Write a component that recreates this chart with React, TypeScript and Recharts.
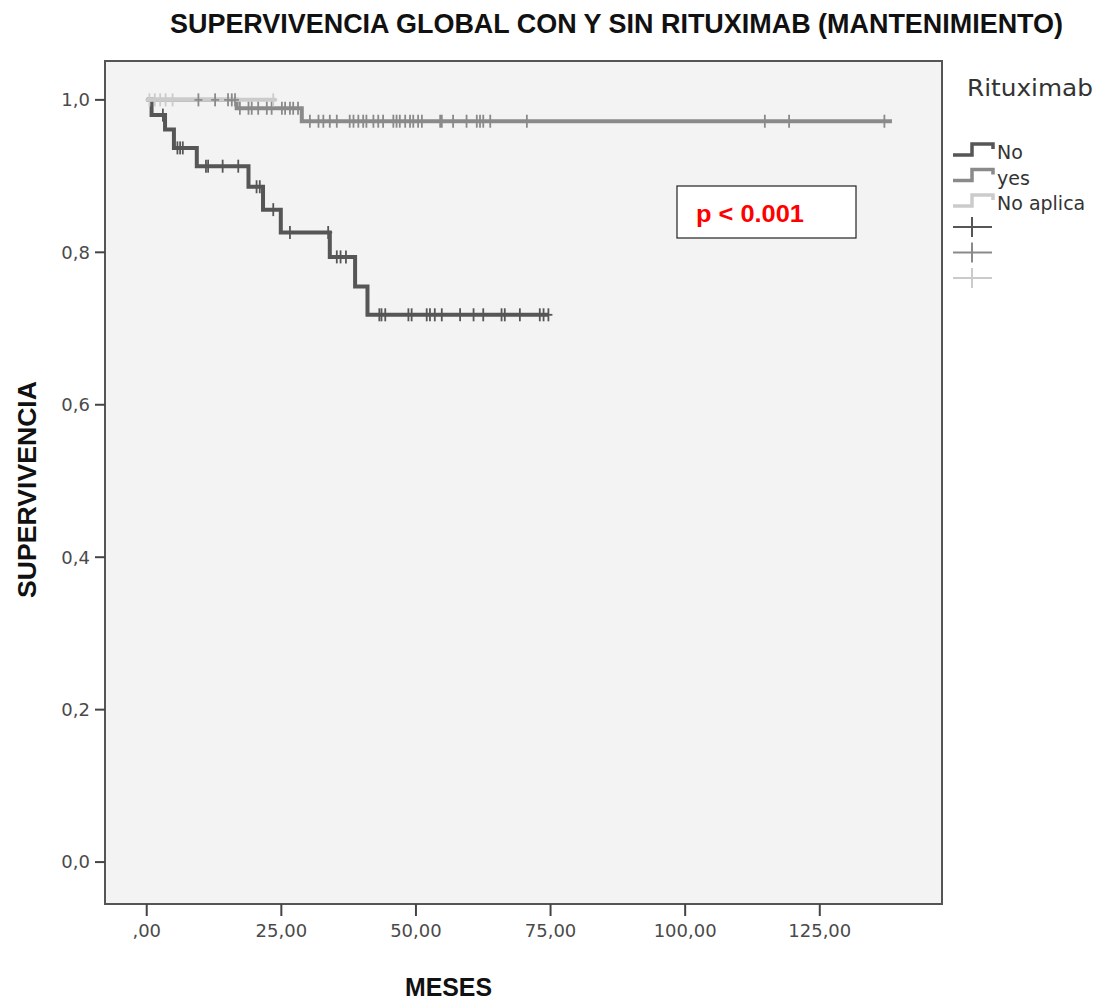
import React from "react";
import {
  ComposedChart,
  Line,
  Scatter,
  XAxis,
  YAxis,
} from "recharts";

// Kaplan-Meier step points (time in months, survival after that time)
const noTimes = [0, 0.9, 3.4, 5.05, 9.3, 18.9, 21.6, 24.9, 34.0, 38.7, 41.0, 74.6];
const noSurv = [1.0, 0.98, 0.961, 0.937, 0.913, 0.886, 0.856, 0.826, 0.794, 0.755, 0.718, 0.718];
const noCensored = [
  3.0, 5.7, 6.2, 6.7, 11.0, 11.4, 14.1, 17.0, 20.4, 21.0, 23.5, 26.6, 33.7, 35.3, 36.0, 37.0,
  43.2, 43.6, 44.3, 48.6, 49.2, 52.0, 52.6, 53.5, 54.8, 58.2, 60.7, 62.5, 65.9, 66.5, 69.3,
  73.0, 73.7, 74.6,
];

const yesTimes = [0, 16.7, 28.8, 138.4];
const yesSurv = [1.0, 0.989, 0.972, 0.972];
const yesCensored = [
  9.6, 12.7, 15.1, 15.8, 16.4, 17.3, 18.9, 19.5, 20.7, 22.3, 23.2, 25.1, 25.7, 26.6, 27.2, 28.1,
  30.3, 31.9, 32.8, 34.0, 35.3, 37.7, 38.4, 39.3, 40.2, 40.8, 42.1, 43.0, 43.9, 45.8, 46.4,
  47.0, 48.0, 48.9, 49.5, 50.4, 51.1, 54.5, 54.8, 56.9, 59.4, 61.3, 61.9, 62.5, 63.8, 70.6,
  114.8, 119.3, 137.0,
];

const naTimes = [0, 24.1];
const naSurv = [1.0, 1.0];
const naCensored = [0.5, 1.5, 2.5, 3.5, 4.8, 23.5];

const xTicks = [0, 25, 50, 75, 100, 125];
const yTicks = [0, 0.2, 0.4, 0.6, 0.8, 1.0];

const groups = ["No", "yes", "No aplica"];
const colors = ["#565656", "#8a8a8a", "#cbcbcb"];

const toSteps = (times: number[], surv: number[]) =>
  times.map((t, i) => ({ t, s: surv[i] }));

// y of a censored case = KM value at that time
const survAt = (times: number[], surv: number[], t: number) => {
  let v = surv[0];
  times.forEach((tt, i) => {
    if (tt <= t) v = surv[i];
  });
  return v;
};

const toCensor = (times: number[], surv: number[], cens: number[]) =>
  cens.map((t) => ({ t, s: survAt(times, surv, t) }));

const series = [
  { steps: toSteps(noTimes, noSurv), cens: toCensor(noTimes, noSurv, noCensored) },
  { steps: toSteps(yesTimes, yesSurv), cens: toCensor(yesTimes, yesSurv, yesCensored) },
  { steps: toSteps(naTimes, naSurv), cens: toCensor(naTimes, naSurv, naCensored) },
];

const plus = (color: string) => (props: any) => {
  const { cx, cy } = props;
  return (
    <g stroke={color} strokeWidth={1.8}>
      <line x1={cx} x2={cx} y1={cy - 6.5} y2={cy + 6.5} />
      <line x1={cx - 4} x2={cx + 4} y1={cy} y2={cy} />
    </g>
  );
};

const fmtX = (v: number) => (v === 0 ? ",00" : v.toFixed(2).replace(".", ","));
const fmtY = (v: number) => v.toFixed(1).replace(".", ",");

const W = 1110;
const H = 1003;
const PL = 105;
const PT = 61;
const PR = 942;
const PB = 904;

const boldFont = "'Liberation Sans Narrow', 'Liberation Sans', Arial, sans-serif";
const tickFont = "'DejaVu Sans', Verdana, sans-serif";

export default function App() {
  return (
    <div style={{ position: "absolute", left: 0, top: 0, width: W, height: H, background: "#fff" }}>
      <div
        style={{
          position: "absolute",
          left: PL - 1,
          top: PT - 1,
          width: PR - PL + 2,
          height: PB - PT + 2,
          background: "#f3f3f3",
          border: "2.5px solid #555",
          boxSizing: "border-box",
        }}
      />
      <div style={{ position: "absolute", left: 0, top: 0 }}>
        <ComposedChart
          width={W}
          height={H}
          margin={{ top: PT, right: W - PR, bottom: 39, left: PL - 60 }}
        >
          <XAxis
            type="number"
            dataKey="t"
            domain={[-7.75, 147.7]}
            ticks={xTicks}
            tickFormatter={fmtX}
            allowDataOverflow
            height={60}
            axisLine={false}
            tickLine={{ stroke: "#444", strokeWidth: 2 }}
            tickSize={12}
            tickMargin={8}
            tick={{ fill: "#4a4a4a", fontSize: 18, fontFamily: tickFont }}
          />
          <YAxis
            type="number"
            dataKey="s"
            domain={[-0.055, 1.051]}
            ticks={yTicks}
            tickFormatter={fmtY}
            allowDataOverflow
            width={60}
            axisLine={false}
            tickLine={{ stroke: "#444", strokeWidth: 2 }}
            tickSize={10}
            tickMargin={5}
            tick={{ fill: "#4a4a4a", fontSize: 18, fontFamily: tickFont }}
          />
          {series.map((g, i) => (
            <Line
              key={"l" + i}
              data={g.steps}
              dataKey="s"
              type="stepAfter"
              stroke={colors[i]}
              strokeWidth={4}
              dot={false}
              activeDot={false}
              isAnimationActive={false}
            />
          ))}
          {series.map((g, i) => (
            <Scatter
              key={"c" + i}
              data={g.cens}
              dataKey="s"
              shape={plus(colors[i])}
              isAnimationActive={false}
            />
          ))}
        </ComposedChart>
      </div>
      <svg
        width={W}
        height={H}
        style={{ position: "absolute", left: 0, top: 0, pointerEvents: "none" }}
      >
        <text
          x={170}
          y={33}
          fontFamily={boldFont}
          fontWeight="bold"
          fontSize={27}
          fill="#111"
          textLength={893}
          lengthAdjust="spacingAndGlyphs"
        >
          SUPERVIVENCIA GLOBAL CON Y SIN RITUXIMAB (MANTENIMIENTO)
        </text>
        <text
          x={405}
          y={996}
          fontFamily={boldFont}
          fontWeight="bold"
          fontSize={26}
          fill="#111"
          textLength={87}
          lengthAdjust="spacingAndGlyphs"
        >
          MESES
        </text>
        <text
          transform="translate(36,598) rotate(-90)"
          fontFamily={boldFont}
          fontWeight="bold"
          fontSize={26}
          fill="#111"
          textLength={217}
          lengthAdjust="spacingAndGlyphs"
        >
          SUPERVIVENCIA
        </text>

        <rect x={677} y={186} width={179} height={52} fill="#fff" stroke="#222" strokeWidth={1.2} />
        <text
          x={696}
          y={222}
          fontFamily="'Liberation Sans', Arial, sans-serif"
          fontWeight="bold"
          fontSize={23}
          fill="#ff0000"
          textLength={108}
          lengthAdjust="spacingAndGlyphs"
        >
          p &lt; 0.001
        </text>

        <text x={967} y={96} fontFamily={tickFont} fontSize={23} fill="#333" textLength={126} lengthAdjust="spacingAndGlyphs">
          Rituximab
        </text>
        {groups.map((name, i) => {
          const yc = 152 + i * 25.5;
          return (
            <g key={name}>
              <path
                d={`M953 ${yc + 3} H972 V${yc - 8} H993 V${yc - 3}`}
                fill="none"
                stroke={colors[i]}
                strokeWidth={3.5}
              />
              <text x={997} y={yc + 7} fontFamily={tickFont} fontSize={19} fill="#333">
                {name}
              </text>
            </g>
          );
        })}
        {groups.map((name, i) => {
          const yc = 227 + i * 25.5;
          return (
            <g key={"x" + name} stroke={colors[i]} strokeWidth={2}>
              <line x1={953} x2={992} y1={yc} y2={yc} />
              <line x1={972} x2={972} y1={yc - 10} y2={yc + 10} />
            </g>
          );
        })}
      </svg>
    </div>
  );
}
